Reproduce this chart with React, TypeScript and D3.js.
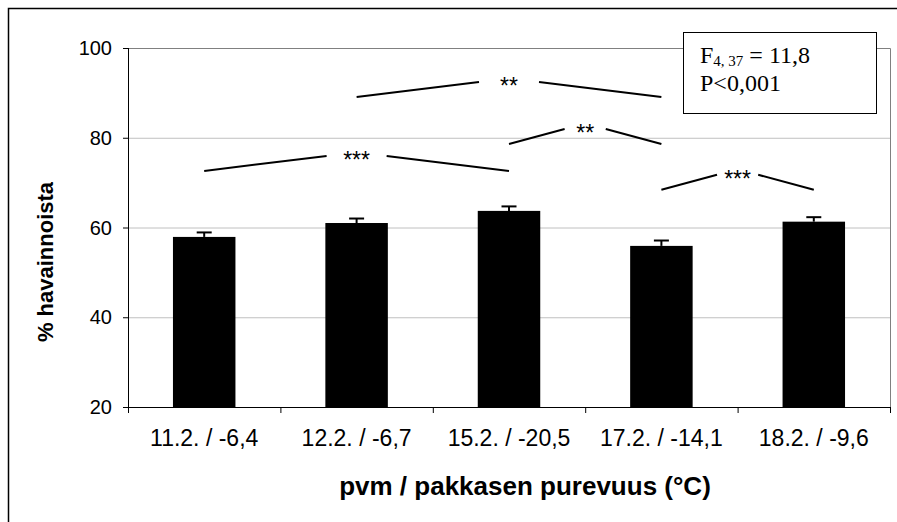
import React from "react";
import * as d3 from "d3";

const categories = ["11.2. / -6,4", "12.2. / -6,7", "15.2. / -20,5", "17.2. / -14,1", "18.2. / -9,6"];
const means = [57.9, 61.0, 63.7, 55.9, 61.3];
const errors = [1.0, 1.0, 1.0, 1.2, 1.0];
const yTicks = [20, 40, 60, 80, 100];

// significance brackets between categories
const brackets = [
	{ from: 0, to: 2, level: 72.6, label: "***" },
	{ from: 1, to: 3, level: 89.1, label: "**" },
	{ from: 2, to: 3, level: 78.6, label: "**" },
	{ from: 3, to: 4, level: 68.4, label: "***" },
];

const W = 897,
	H = 522;
const margin = { top: 48, right: 7, bottom: 115, left: 128 };
const serif = "'Times New Roman', 'Liberation Serif', serif";

export default function App() {
	const x = d3
		.scaleBand<string>()
		.domain(categories)
		.range([margin.left, W - margin.right]);
	const y = d3
		.scaleLinear()
		.domain([20, 100])
		.range([H - margin.bottom, margin.top]);

	const barW = x.step() * 0.41;
	const x0 = margin.left,
		x1 = W - margin.right;
	const yBase = y(20),
		yTop = y(100);
	const ticksX = d3.range(categories.length + 1).map((i) => x0 + i * x.step());

	return (
		<svg
			width={W}
			height={H}
			style={{ position: "absolute", left: 0, top: 0, background: "#fff" }}
			fontFamily="Arial, 'Liberation Sans', sans-serif"
		>
			<rect x={8.5} y={8.5} width={W + 20} height={H + 20} fill="none" stroke="#000" strokeWidth={1.5} />

			{/* gridlines */}
			{yTicks
				.filter((t) => t > 20 && t < 100)
				.map((t) => (
					<line key={t} x1={x0} x2={x1} y1={y(t) + 0.5} y2={y(t) + 0.5} stroke="#c0c0c0" />
				))}
			{/* plot area border */}
			<polyline
				points={`${x0},${yTop + 0.5} ${x1 + 0.5},${yTop + 0.5} ${x1 + 0.5},${yBase}`}
				fill="none"
				stroke="#808080"
			/>

			{/* bars */}
			{categories.map((c, i) => {
				const cx = x(c)! + x.bandwidth() / 2;
				return (
					<g key={c}>
						<rect x={cx - barW / 2} y={y(means[i])} width={barW} height={yBase - y(means[i])} fill="#000" />
						<line x1={cx} x2={cx} y1={y(means[i])} y2={y(means[i] + errors[i])} stroke="#000" strokeWidth={2} />
						<line x1={cx - 7.5} x2={cx + 7.5} y1={y(means[i] + errors[i])} y2={y(means[i] + errors[i])} stroke="#000" strokeWidth={2} />
					</g>
				);
			})}

			{/* axes */}
			<line x1={x0 + 0.5} x2={x0 + 0.5} y1={yTop} y2={yBase} stroke="#000" />
			<line x1={x0} x2={x1 + 1} y1={yBase + 0.5} y2={yBase + 0.5} stroke="#000" />
			{yTicks.map((t) => (
				<g key={t}>
					<line x1={x0 - 5} x2={x0} y1={y(t) + 0.5} y2={y(t) + 0.5} stroke="#000" />
					<text x={x0 - 16} y={y(t)} dy="0.36em" textAnchor="end" fontSize={20}>
						{t}
					</text>
				</g>
			))}
			{ticksX.map((tx, i) => (
				<line key={i} x1={tx + 0.5} x2={tx + 0.5} y1={yBase} y2={yBase + 6} stroke="#000" />
			))}
			{categories.map((c) => (
				<text key={c} x={x(c)! + x.bandwidth() / 2} y={yBase + 31} dy="0.36em" textAnchor="middle" fontSize={23}>
					{c}
				</text>
			))}

			{/* axis titles */}
			<text x={(x0 + x1) / 2 + 16} y={495} textAnchor="middle" fontSize={26} fontWeight="bold">
				pvm / pakkasen purevuus (°C)
			</text>
			<text transform={`translate(53,262) rotate(-90)`} textAnchor="middle" fontSize={22} fontWeight="bold">
				% havainnoista
			</text>

			{/* significance brackets */}
			{brackets.map((b, i) => {
				const xa = x(categories[b.from])! + x.bandwidth() / 2;
				const xb = x(categories[b.to])! + x.bandwidth() / 2;
				const xm = (xa + xb) / 2;
				const gap = Math.min(30, ((xb - xa) / 2) * 0.27);
				const ye = y(b.level);
				return (
					<g key={i} stroke="#000" strokeWidth={2}>
						<line x1={xa} y1={ye} x2={xm - gap} y2={ye - 15} />
						<line x1={xm + gap} y1={ye - 15} x2={xb} y2={ye} />
						<text x={xm} y={ye - 3} textAnchor="middle" fontSize={23} stroke="none" fill="#000">
							{b.label}
						</text>
					</g>
				);
			})}

			{/* statistics box */}
			<rect x={683.5} y={32.5} width={193} height={81} fill="#fff" stroke="#000" />
			<text x={700} y={63} fontFamily={serif} fontSize={24}>
				F<tspan fontSize={15} dy={3}>4, 37</tspan>
				<tspan dy={-3}> = 11,8</tspan>
			</text>
			<text x={700} y={91} fontFamily={serif} fontSize={24}>
				P&lt;0,001
			</text>
		</svg>
	);
}
